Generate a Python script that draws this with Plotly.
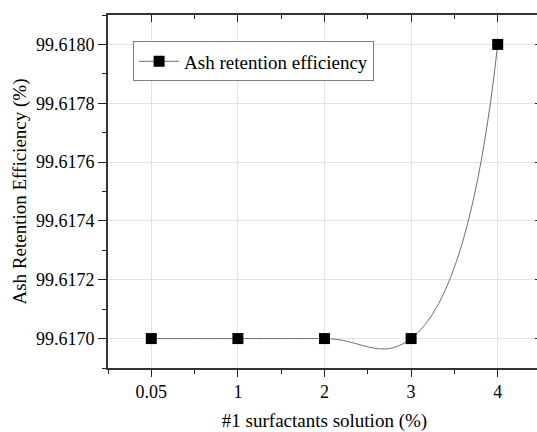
import plotly.graph_objects as go

categories = ["0.05", "1", "2", "3", "4"]
efficiency = [99.6170, 99.6170, 99.6170, 99.6170, 99.6180]
series_name = "Ash retention efficiency"
y_ticks = [99.6170, 99.6172, 99.6174, 99.6176, 99.6178, 99.6180]
y_ticktext = ["99.6170", "99.6172", "99.6174", "99.6176", "99.6178", "99.6180"]

xpos = list(range(len(categories)))
FONT = "Liberation Serif"

fig = go.Figure()
fig.add_trace(go.Scatter(
    x=xpos, y=efficiency, name=series_name, mode="lines+markers",
    line=dict(color="#707070", width=1.0, shape="spline", smoothing=1.3),
    marker=dict(symbol="square", size=11, color="black"),
))
# invisible trace to activate the mirrored top/right axes
fig.add_trace(go.Scatter(x=xpos, y=efficiency, xaxis="x2", yaxis="y2",
                         mode="markers", marker=dict(opacity=0),
                         showlegend=False, hoverinfo="skip"))

xr = [-0.5, len(categories) - 0.5]
yr = [99.6169, 99.6181]
minor_x = [i + 0.5 for i in range(-1, len(categories))]
minor_y = [99.6169 + 0.0001 * k for k in range(13)]

fig.update_layout(
    width=545, height=432,
    margin=dict(l=108, r=4, t=15, b=62),
    paper_bgcolor="white", plot_bgcolor="white",
    font=dict(family=FONT, size=18, color="black"),
    showlegend=True,
    legend=dict(x=0.058, y=0.925, xanchor="left", yanchor="top",
                bordercolor="#7f7f7f", borderwidth=1, bgcolor="white",
                font=dict(family=FONT, size=19, color="black"),
                tracegroupgap=0, itemwidth=40),
    xaxis=dict(
        range=xr, tickmode="array", tickvals=xpos, ticktext=categories,
        ticks="outside", ticklen=7, tickwidth=1.2, tickcolor="#222",
        showline=True, linecolor="#333", linewidth=1.6,
        showgrid=True, gridcolor="#e3e3e3", gridwidth=1, zeroline=False,
        minor=dict(tickmode="array", tickvals=minor_x, ticks="outside",
                   ticklen=4, tickcolor="#222", showgrid=False),
        title=dict(text="#1 surfactants solution (%)", font=dict(family=FONT, size=19, color="black"), standoff=12),
        tickfont=dict(family=FONT, size=18, color="black"),
    ),
    yaxis=dict(
        range=yr, tickmode="array", tickvals=y_ticks, ticktext=y_ticktext,
        ticks="outside", ticklen=8, tickwidth=1.2, tickcolor="#222",
        showline=True, linecolor="#333", linewidth=1.6,
        showgrid=True, gridcolor="#e3e3e3", gridwidth=1, zeroline=False,
        minor=dict(tickmode="array", tickvals=minor_y, ticks="outside",
                   ticklen=4, tickcolor="#222", showgrid=False),
        title=dict(text="Ash Retention Efficiency (%)", font=dict(family=FONT, size=19, color="black"), standoff=4),
        tickfont=dict(family=FONT, size=18, color="black"),
    ),
    xaxis2=dict(
        overlaying="x", side="top", range=xr, tickmode="array", tickvals=xpos,
        showticklabels=False, ticks="inside", ticklen=7, tickwidth=1.2, tickcolor="#222",
        showline=True, linecolor="#333", linewidth=1.8, showgrid=False, zeroline=False,
        minor=dict(tickmode="array", tickvals=minor_x, ticks="inside", ticklen=4, tickcolor="#222"),
    ),
    yaxis2=dict(
        overlaying="y", side="right", range=yr, tickmode="array", tickvals=y_ticks,
        showticklabels=False, ticks="inside", ticklen=6, tickwidth=1.2, tickcolor="#222",
        showline=True, linecolor="#333", linewidth=1.6, showgrid=False, zeroline=False,
        minor=dict(tickmode="array", tickvals=minor_y, ticks="inside", ticklen=3, tickcolor="#222"),
    ),
)

fig.write_html("out.html", post_script="document.documentElement.style.overflow='hidden';document.body.style.overflow='hidden';document.body.style.margin='0';")
